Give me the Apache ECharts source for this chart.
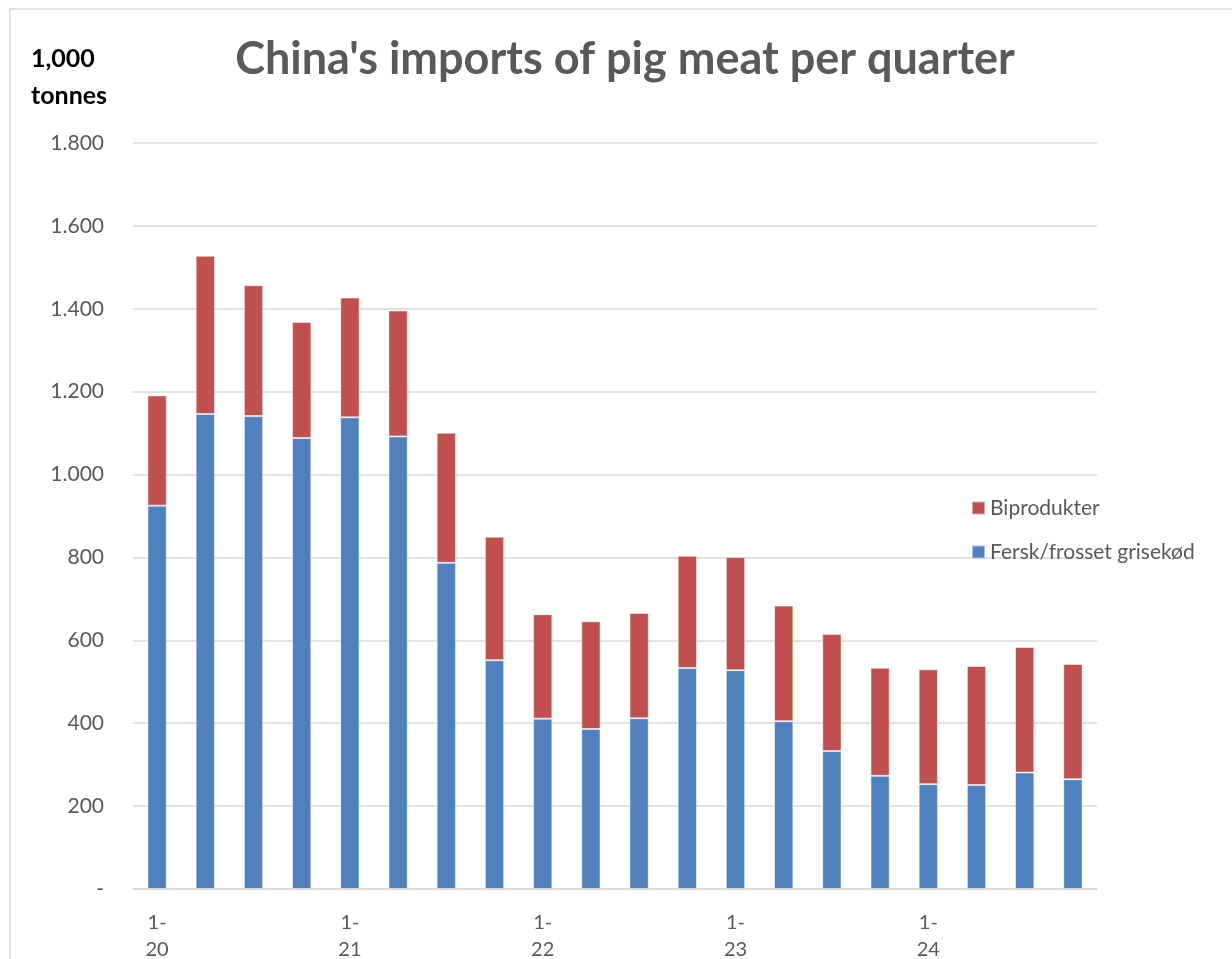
<!DOCTYPE html>
<html>
<head>
<meta charset="utf-8">
<script src="https://cdn.jsdelivr.net/npm/echarts@6/dist/echarts.min.js"></script>
<style>
html,body{margin:0;padding:0;background:#fff;overflow:hidden;}
#chart{width:1232px;height:959px;}
</style>
</head>
<body>
<div id="chart"></div>
<script>
var categories = ["1-20","2-20","3-20","4-20","1-21","2-21","3-21","4-21","1-22","2-22","3-22","4-22","1-23","2-23","3-23","4-23","1-24","2-24","3-24","4-24"];
var fersk = [925,1146,1141,1088,1138,1092,787,552,411,386,412,533,528,405,333,273,253,251,281,265];
var biprodukter = [266,382,316,280,289,304,314,298,252,260,254,271,273,279,282,261,277,287,303,278];
var yTicks = {min:0, max:1800, interval:200};
var titleText = "China's imports of pig meat per quarter";
var unitText = "1,000\ntonnes";

var chart = echarts.init(document.getElementById('chart'));
var font = 'Lato, "Open Sans", sans-serif';
chart.setOption({
  animation:false,
  backgroundColor:'#fff',
  graphic:[
    {type:'rect', shape:{x:10,y:9,width:1400,height:1100}, style:{fill:'none', stroke:'#d9d9d9', lineWidth:1.5}, silent:true},
    {type:'text', left:31, top:40, style:{text:unitText, font:'bold 25px '+font, fill:'#000', lineHeight:37}}
  ],
  title:{
    text:titleText, left:620, top:32, textAlign:'center',
    textStyle:{fontFamily:font, fontWeight:'bold', fontSize:45, color:'#595959'}
  },
  legend:{
    orient:'vertical', left:966, top:492, itemWidth:13, itemHeight:13, itemGap:22,
    icon:'rect',
    data:['Biprodukter','Fersk/frosset grisekød'],
    textStyle:{fontFamily:font, fontSize:21, lineHeight:22, color:'#595959', padding:[0,0,0,0]}
  },
  grid:{left:133, right:135, top:143, height:746, containLabel:false, outerBoundsMode:'none'},
  xAxis:{
    type:'category', data:categories,
    axisLine:{lineStyle:{color:'#d9d9d9', width:1.5}},
    axisTick:{show:false},
    axisLabel:{
      interval:3, color:'#595959', fontFamily:font, fontSize:20, lineHeight:27, margin:20,
      formatter:function(v){ var p=v.split('-'); return p[0]+'-\n'+p[1]; }
    }
  },
  yAxis:{
    type:'value', min:yTicks.min, max:yTicks.max, interval:yTicks.interval,
    axisLine:{show:false}, axisTick:{show:false},
    splitLine:{lineStyle:{color:'#d9d9d9', width:1.5}},
    axisLabel:{
      color:'#595959', fontFamily:font, fontSize:21, margin:29,
      formatter:function(v){ return v===0 ? '-' : String(v).replace(/\B(?=(\d{3})+(?!\d))/g,'.'); }
    }
  },
  series:[
    {name:'Fersk/frosset grisekød', type:'bar', stack:'a', data:fersk, barWidth:'40%',
     itemStyle:{color:'#4f81bd', borderColor:'rgba(255,255,255,0.5)', borderWidth:1}},
    {name:'Biprodukter', type:'bar', stack:'a', data:biprodukter, barWidth:'40%',
     itemStyle:{color:'#c0504d', borderColor:'rgba(255,255,255,0.5)', borderWidth:1}}
  ]
});
</script>
</body>
</html>
